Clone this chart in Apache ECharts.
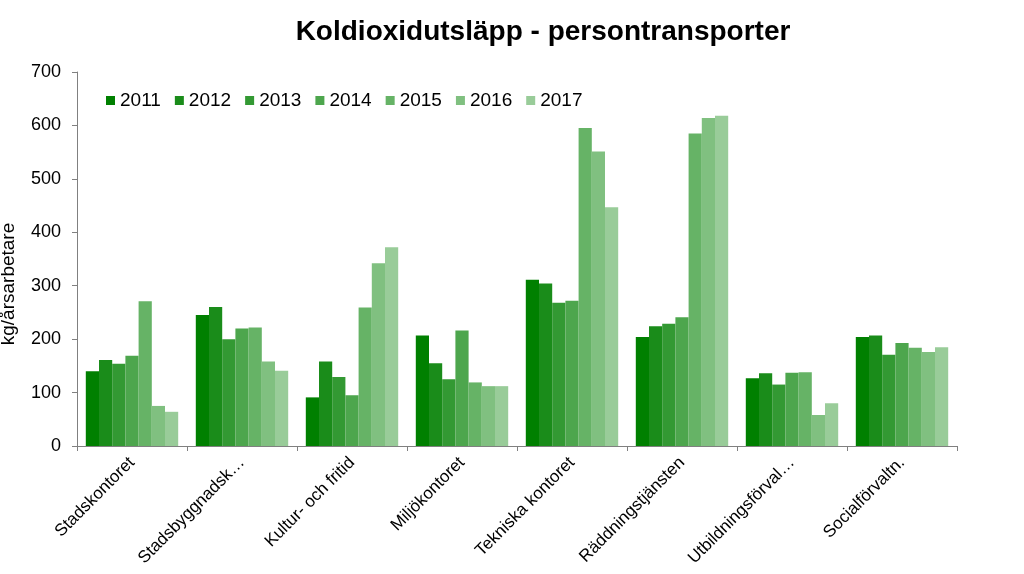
<!DOCTYPE html>
<html><head><meta charset="utf-8">
<script src="https://cdn.jsdelivr.net/npm/echarts@6/dist/echarts.min.js"></script>
<style>html,body{margin:0;padding:0;background:#fff}#c{width:1024px;height:574px}</style>
</head><body><div id="c"></div>
<script>
const categories = ["Stadskontoret","Stadsbyggnadsk…","Kultur- och fritid","Miljökontoret","Tekniska kontoret","Räddningstjänsten","Utbildningsförval…","Socialförvaltn."];
const years = ["2011","2012","2013","2014","2015","2016","2017"];
const v2011 = [140,245,91,207,311,204,127,204];
const v2012 = [161,260,158,155,304,224,136,207];
const v2013 = [154,200,129,125,268,229,115,171];
const v2014 = [169,220,95,216,272,241,137,193];
const v2015 = [271,222,259,119,595,585,138,184];
const v2016 = [75,158,342,112,551,614,58,176];
const v2017 = [64,141,372,112,447,618,80,185];
const yTicks = [0,100,200,300,400,500,600,700];
const values = [v2011,v2012,v2013,v2014,v2015,v2016,v2017];
const colors = ["#008000","#1a8c1a","#339933","#4da64d","#66b366","#80c080","#99cc99"];
const chart = echarts.init(document.getElementById('c'));
chart.setOption({
  animation:false,
  color:colors,
  title:{text:"Koldioxidutsläpp - persontransporter",left:538,textAlign:'center',top:13,
    textStyle:{fontFamily:"Liberation Sans",fontSize:28,fontWeight:'bold',color:'#000'}},
  legend:{left:101,top:86,itemWidth:9,itemHeight:9,itemGap:14,icon:'rect',
    textStyle:{fontFamily:"Liberation Sans",fontSize:19,color:'#000',padding:[0,0,0,0]},data:years},
  grid:{left:77,right:67,top:72,bottom:128,containLabel:false,outerBoundsMode:'none'},
  xAxis:{type:'category',data:categories,
    axisLine:{lineStyle:{color:'#808080'}},
    axisTick:{show:true,alignWithLabel:false,length:5,lineStyle:{color:'#808080'}},
    axisLabel:{rotate:45,interval:0,fontFamily:"Liberation Sans",fontSize:17,color:'#000',margin:14}},
  yAxis:{type:'value',min:yTicks[0],max:yTicks[yTicks.length-1],interval:100,
    name:"kg/årsarbetare",nameLocation:'middle',nameGap:59,nameRotate:90,nameMoveOverlap:false,
    nameTextStyle:{fontFamily:"Liberation Sans",fontSize:19,color:'#000',padding:[0,50,0,0]},
    splitLine:{show:false},
    axisLine:{show:true,lineStyle:{color:'#808080'}},
    axisTick:{show:true,length:5,lineStyle:{color:'#808080'}},
    axisLabel:{fontFamily:"Liberation Sans",fontSize:18,color:'#000',margin:16}},
  series: years.map((y,i)=>({name:y,type:'bar',data:values[i],barGap:'0%',barCategoryGap:'16%'}))
});
</script></body></html>
